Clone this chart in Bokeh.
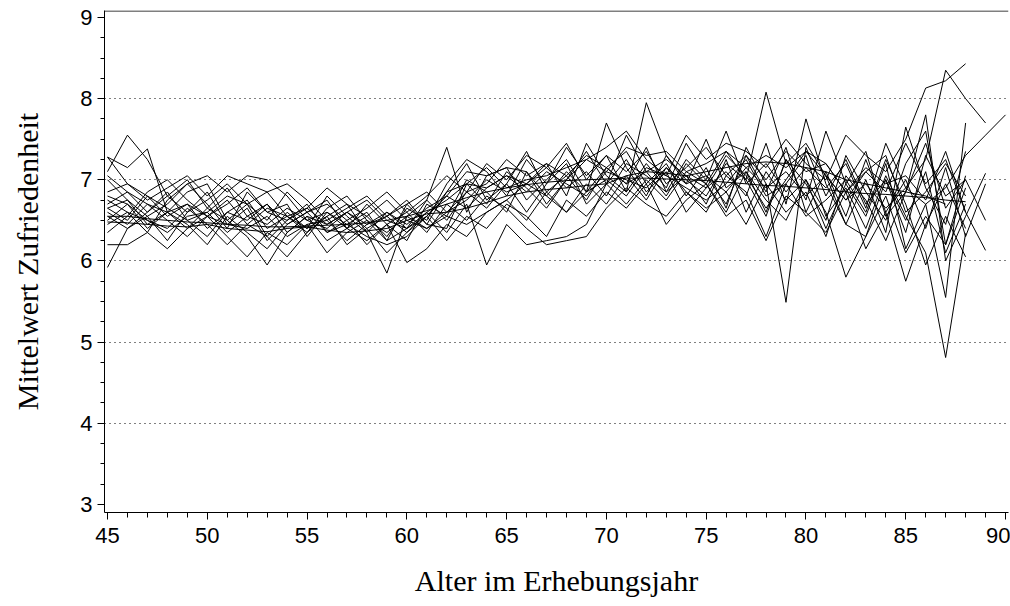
from bokeh.plotting import figure
from bokeh.models import Range1d, FixedTicker, Span
from bokeh.embed import file_html
from bokeh.resources import INLINE

# Age (Alter im Erhebungsjahr)
ages = list(range(45, 91))

# Mean satisfaction per cohort, starting at age 45
s01 = [6.55,6.55,6.52,6.50,6.48,6.47,6.45,6.44,6.42,6.42,6.43,6.44,6.45,6.47,6.50,6.55,6.62,6.70,6.78,6.85,6.90,6.94,6.97,6.99,7.00,7.01,7.02,7.02,7.01,7.00,6.99,6.97,6.95,6.93,6.92,6.90,6.88,6.85,6.83,6.82,6.80,6.78,6.75,6.73]
s02 = [6.48,6.47,6.45,6.43,6.42,6.45,6.40,6.38,6.36,6.40,6.42,6.38,6.35,6.37,6.40,6.50,6.58,6.60,6.65,6.72,6.80,6.85,6.88,6.90,6.93,6.95,7.05,7.10,7.08,7.05,7.10,7.15,7.20,7.22,7.20,7.15,7.10,7.00,6.95,6.90,6.85,6.80,6.70]
s03 = [7.10,7.55,7.25,6.80,7.00,6.65,6.90,6.55,6.70,6.45,6.60,6.75,6.40,6.55,6.30,6.65,6.50,6.95,7.25,7.10,6.80,7.25,6.95,7.40,7.05,7.30,6.85,7.20,6.90,7.45,7.05,6.70,7.30,6.85,7.40,6.60,7.10,6.55,7.25,6.60,7.00,6.40,7.15,6.30,6.95]
s04 = [7.28,7.15,7.38,6.60,6.85,6.95,6.50,6.70,6.30,6.60,6.40,6.55,6.70,6.35,6.60,6.40,6.75,7.40,6.60,7.05,7.15,6.75,7.00,7.25,6.85,7.70,7.15,6.80,7.30,6.95,7.50,6.90,7.10,6.60,7.25,6.95,6.50,7.30,6.85,6.50,7.20,7.60,6.20,6.90]
s05 = [5.92,6.40,6.55,6.25,6.60,6.85,6.45,6.65,6.25,6.50,6.70,6.35,6.45,6.60,6.25,6.70,6.45,6.85,7.20,6.75,6.95,7.35,6.85,7.05,6.75,7.15,6.95,7.40,6.85,7.05,6.70,7.25,6.60,7.10,6.75,7.00,6.40,6.95,6.55,7.20,6.15,6.70,5.55,7.70]
s06 = [7.05,6.85,6.70,6.60,6.70,6.55,6.45,6.40,6.55,6.30,6.45,6.50,6.25,6.45,6.55,6.35,6.60,6.75,6.95,6.70,7.10,6.90,6.65,7.00,7.35,6.95,7.55,7.10,6.80,7.20,6.95,7.35,7.00,8.08,7.20,7.45,7.05,6.75,7.10,6.85,7.45,6.95,7.25,6.60]
s07 = [6.75,6.60,6.35,6.75,6.95,6.70,6.40,6.85,6.60,6.70,6.30,6.60,6.40,6.70,6.45,6.25,6.70,6.55,7.00,6.85,6.60,7.10,6.80,7.10,6.85,7.15,7.35,6.95,7.20,6.80,7.15,6.65,7.40,6.95,5.49,7.40,6.80,7.25,6.70,7.00,6.35,7.30,6.80,7.00]
s08 = [6.60,6.45,6.70,6.50,6.30,6.55,6.75,6.45,6.65,6.55,6.40,6.80,6.55,6.35,5.85,6.55,6.40,6.60,6.85,6.95,7.25,7.05,7.20,6.80,7.45,7.05,6.85,7.95,7.30,7.00,6.80,7.20,7.00,6.55,7.25,6.75,7.60,6.95,7.35,6.55,6.85,7.80,6.00,6.55,7.08]
s09 = [6.50,6.70,6.40,6.60,6.45,6.20,6.55,6.35,6.15,6.45,6.60,6.35,6.50,6.20,6.45,5.98,6.15,6.45,6.30,6.60,6.75,6.50,6.85,6.60,6.95,6.70,7.05,6.75,7.15,6.85,6.60,7.05,6.85,6.30,6.95,7.30,6.55,6.90,6.40,7.05,6.55,6.10,4.81,6.34]
s10 = [6.20,6.20,6.35,6.15,6.40,6.55,6.30,6.05,6.35,6.20,6.45,6.10,6.35,6.50,6.25,6.40,6.60,6.35,6.70,5.95,6.45,6.20,6.25,6.30,6.45,6.95,6.70,7.00,6.75,7.10,6.95,6.60,7.10,6.75,6.50,7.00,6.60,5.80,6.30,6.80,6.10,6.55,6.20,7.05]
s11 = [6.85,6.95,6.75,6.90,7.05,6.80,7.05,6.95,6.85,6.95,6.75,6.50,6.65,6.80,6.55,6.75,6.45,6.40,6.95,7.15,6.90,7.00,7.05,7.15,7.25,7.40,7.60,7.25,7.05,7.55,7.25,7.45,7.35,7.15,7.50,7.20,7.00,7.55,7.30,7.10,7.50,8.13,8.22,8.43]
s12 = [6.65,6.50,6.80,6.55,6.70,6.40,6.60,6.50,6.70,6.35,6.55,6.45,6.60,6.40,6.55,6.70,6.85,6.60,6.75,7.00,6.85,6.95,7.15,6.90,7.10,6.80,7.20,7.05,6.85,7.25,7.00,7.60,6.95,7.20,6.85,7.15,6.90,7.20,6.65,7.45,6.90,7.25,8.35,8.00,7.70]
s13 = [6.45,6.60,6.50,6.35,6.55,6.60,6.35,6.55,6.45,6.65,6.50,6.40,6.60,6.45,6.60,6.45,6.65,6.80,6.65,6.90,7.05,6.85,7.10,6.95,6.80,7.10,7.00,6.90,7.15,6.95,7.05,6.85,7.15,6.90,7.10,6.80,7.05,6.75,6.95,6.65,6.90,6.70,6.90,7.30,7.55,7.80]
s14 = [6.70,6.85,6.60,6.80,6.60,6.75,6.95,6.70,6.50,6.85,6.60,6.70,6.50,6.65,6.85,6.60,6.80,7.05,6.85,7.20,7.00,7.30,7.15,7.45,7.00,7.30,7.10,7.35,6.95,7.15,7.40,7.05,7.30,7.00,7.35,7.10,7.20,6.85,7.15,6.95,7.05,6.75,7.35,6.60,6.13]
s15 = [6.55,6.40,6.60,6.85,6.50,6.30,6.60,6.75,6.40,6.55,6.35,6.65,6.80,6.50,6.35,6.55,6.75,6.50,6.85,6.65,6.95,6.60,6.95,7.20,6.70,6.95,7.25,6.85,7.10,6.60,6.90,7.10,6.80,7.45,6.70,7.75,6.95,6.45,7.00,6.35,7.65,6.90,6.45,7.35]
s16 = [6.80,6.70,6.50,6.40,6.65,6.45,6.20,6.45,6.30,6.05,6.35,6.55,6.20,6.40,6.10,6.35,6.55,6.25,6.55,6.40,6.70,6.55,6.30,6.75,6.55,6.85,6.65,6.95,6.45,6.75,6.95,6.55,6.75,6.25,6.80,6.60,6.35,6.85,6.15,6.60,5.75,6.45,6.95,6.40]
s17 = [7.00,6.75,6.55,6.70,6.95,7.05,6.85,7.05,7.00,6.80,6.50,6.60,6.45,6.30,6.20,6.30,6.55,6.80,7.10,7.05,7.15,7.10,6.70,7.00,7.25,7.10,7.40,7.30,7.35,7.10,7.20,7.35,7.15,7.30,7.15,7.35,7.05,6.45,6.30,7.00,6.50,7.10,6.10,6.70]
s18 = [6.35,6.55,6.85,7.00,6.75,6.55,6.70,6.90,6.60,6.50,6.65,6.90,6.70,6.55,6.75,6.50,6.40,6.55,6.45,6.60,6.75,6.95,6.80,6.60,6.85,7.00,6.80,7.15,7.05,6.90,6.75,6.95,7.25,6.80,6.95,6.55,6.75,7.00,6.60,7.25,6.70,5.95,6.55,6.05]
s19 = [6.65,6.75,6.45,6.60,6.40,6.65,6.50,6.30,5.95,6.35,6.55,6.25,6.40,6.25,6.45,6.60,6.35,6.70,6.50,6.80,6.65,6.40,6.20,6.25,6.30,6.65,6.90,6.70,6.55,6.85,6.65,6.85,6.45,6.95,6.60,6.85,6.30,7.05,6.75,6.25,6.85,7.45,6.65,7.00,6.50]
s20 = [7.28,6.95,6.80,6.65,6.50,6.60,6.80,6.70,6.85,6.55,6.65,6.45,6.60,6.75,6.50,6.40,6.55,6.85,6.95,6.90,7.05,6.95,7.20,7.05,7.30,7.15,6.95,7.10,7.25,7.05,6.90,7.30,7.05,6.65,7.00,7.35,7.20,6.85,7.10,7.30,6.60,6.85,7.20,6.80]

series = [s01, s02, s03, s04, s05, s06, s07, s08, s09, s10,
          s11, s12, s13, s14, s15, s16, s17, s18, s19, s20]

x_major = [45, 50, 55, 60, 65, 70, 75, 80, 85, 90]
y_major = [3, 4, 5, 6, 7, 8, 9]
y_minor = [3 + 0.25 * i for i in range(25)]
y_grid = [4, 5, 6, 7, 8]

p = figure(width=1010, height=606, output_backend="svg", toolbar_location=None,
           x_range=Range1d(44.85, 90.15), y_range=Range1d(2.90, 9.086),
           min_border_left=104, min_border_right=2, min_border_top=10,
           min_border_bottom=94)
p.outline_line_color = None
p.background_fill_color = "white"
p.border_fill_color = "white"

for s in series:
    p.line(ages[:len(s)], s, line_color="#000000", line_width=1)

# top border line of the plot frame
p.add_layout(Span(location=9.08, dimension="width", line_color="black", line_width=1.2))

xa = p.xaxis[0]
xa.ticker = FixedTicker(ticks=x_major, minor_ticks=ages)
ya = p.yaxis[0]
ya.ticker = FixedTicker(ticks=y_major, minor_ticks=y_minor)

for ax in (xa, ya):
    ax.axis_line_color = "black"
    ax.major_tick_line_color = "black"
    ax.minor_tick_line_color = "black"
    ax.major_tick_out = 7
    ax.major_tick_in = 0
    ax.minor_tick_out = 5
    ax.minor_tick_in = 0
    ax.major_label_text_font = "Liberation Sans"
    ax.major_label_text_font_size = "22px"
    ax.major_label_text_color = "black"
    ax.axis_label_text_font = "Liberation Serif"
    ax.axis_label_text_font_size = "30px"
    ax.axis_label_text_font_style = "normal"
    ax.axis_label_text_color = "black"

xa.axis_label = "Alter im Erhebungsjahr"
xa.major_label_standoff = 8
xa.axis_label_standoff = 18
ya.axis_label = "Mittelwert Zufriedenheit"
ya.major_label_standoff = 5
ya.axis_label_standoff = 33
ya.minor_tick_out = 4

p.xgrid.grid_line_color = None
p.ygrid.ticker = FixedTicker(ticks=y_grid)
p.ygrid.grid_line_color = "black"
p.ygrid.grid_line_dash = "1 4"
p.ygrid.grid_line_width = 1

open("out.html", "w").write(file_html(p, INLINE))
